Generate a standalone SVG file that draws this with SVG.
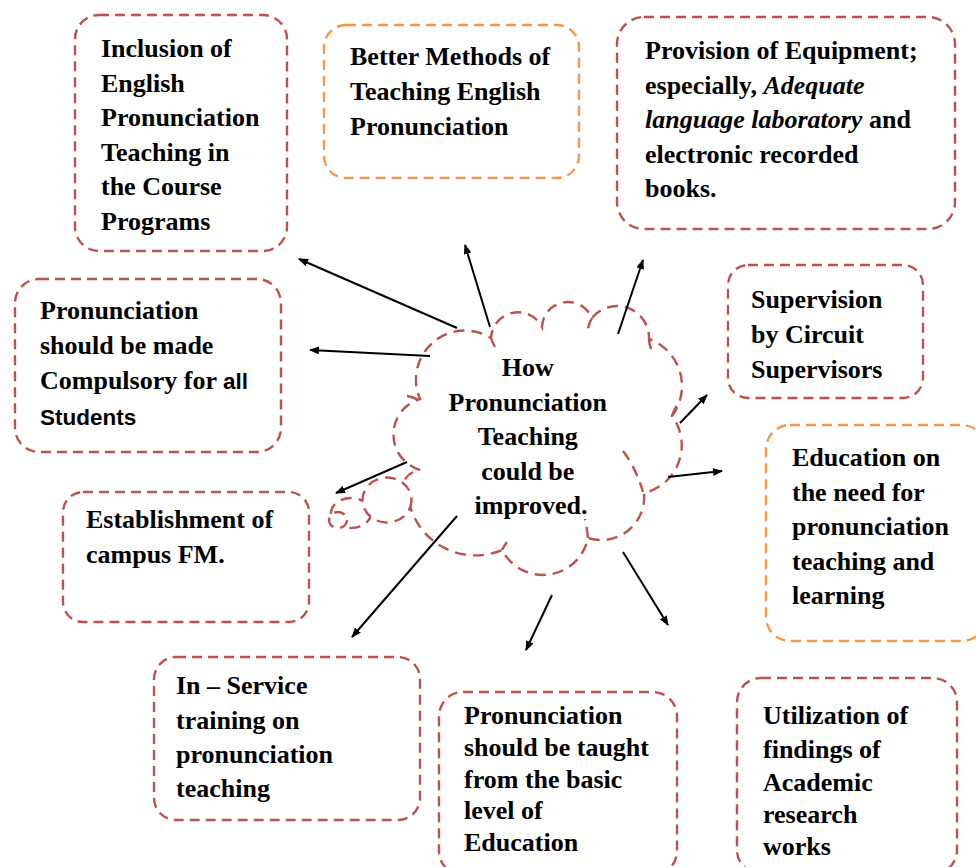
<svg xmlns="http://www.w3.org/2000/svg" width="976" height="867" viewBox="0 0 976 867">
  <style>
    .box { fill: #ffffff; stroke-width: 2.4; stroke-dasharray: 10 6; }
    .red { stroke: #C0504D; }
    .orange { stroke: #F79646; }
    .cloud { fill: #ffffff; stroke: #C0504D; stroke-width: 2.4; stroke-dasharray: 11 7; }
    .tick { fill: none; stroke: #C0504D; stroke-width: 2.4; stroke-dasharray: 11 7; }
    .label { font-family: "Liberation Serif", "Times New Roman", serif; font-weight: bold; font-size: 26px; fill: #000000; }
    .hub { text-anchor: middle; }
    .em { font-style: italic; }
    .sans { font-family: "Liberation Sans", Arial, sans-serif; font-size: 22.5px; }
    .link { fill: none; stroke: #000000; stroke-width: 2; marker-end: url(#head); }
  </style>
  <defs>
    <marker id="head" viewBox="0 0 10 8" refX="9" refY="4" markerWidth="10" markerHeight="8" markerUnits="userSpaceOnUse" orient="auto">
      <path d="M0,0 L10,4 L0,8 Z" fill="#000000"/>
    </marker>
  </defs>

  <rect width="976" height="867" fill="#ffffff"/>

  <!-- central thought cloud -->
  <g id="hub">
    <path class="cloud" d="M420,470 A37,37 0 0 1 420,399 A49,49 0 0 1 491,338 A27,27 0 0 1 542,327 A26,26 0 0 1 592,318 A32,32 0 0 1 649,339 A50,50 0 0 1 672,416 A49,49 0 0 1 644,493 A43,43 0 0 1 588,538 A46,46 0 0 1 502,550 A68,68 0 0 1 410,506 A20,20 0 0 1 420,470 Z"/>
    <path class="tick" d="M407,396 Q414,397 420,401 M491,338 Q492,342 495,347 M592,318 Q589,323 588,329 M649,339 Q649,343 651,349 M672,416 Q674,410 677,405 M623,451 Q636,468 643,492 M588,538 Q587,528 585,519 M502,550 Q504,546 507,542"/>
    <ellipse class="cloud" cx="351" cy="513" rx="20" ry="15"/>
    <ellipse class="cloud" cx="387" cy="500" rx="24.5" ry="22.5"/>
    <ellipse class="cloud" cx="338" cy="520" rx="9" ry="8"/>
    <text class="label hub">
      <tspan x="531" y="376">How</tspan>
      <tspan x="531" y="410.5">Pronunciation</tspan>
      <tspan x="531" y="445">Teaching</tspan>
      <tspan x="531" y="479.5">could be</tspan>
      <tspan x="531" y="514">improved.</tspan>
    </text>
  </g>

  <!-- connectors from the cloud out to each suggestion -->
  <g id="connectors">
    <line class="link" x1="457" y1="328" x2="299" y2="259"/>
    <line class="link" x1="490" y1="327" x2="465" y2="245"/>
    <line class="link" x1="430" y1="356" x2="310" y2="350"/>
    <line class="link" x1="618" y1="334" x2="643" y2="260"/>
    <line class="link" x1="680" y1="423" x2="707" y2="395"/>
    <line class="link" x1="668" y1="477" x2="722" y2="471"/>
    <line class="link" x1="407" y1="462" x2="336" y2="493"/>
    <line class="link" x1="457" y1="516" x2="352" y2="637"/>
    <line class="link" x1="552" y1="595" x2="526" y2="650"/>
    <line class="link" x1="623" y1="552" x2="668" y2="625"/>
  </g>

  <g id="inclusion">
    <rect class="box red" x="75" y="15" width="212" height="236" rx="24"/>
    <text class="label">
      <tspan x="101" y="57">Inclusion of</tspan>
      <tspan x="101" y="91.5">English</tspan>
      <tspan x="101" y="126">Pronunciation</tspan>
      <tspan x="101" y="160.5">Teaching in</tspan>
      <tspan x="101" y="195">the Course</tspan>
      <tspan x="101" y="229.5">Programs</tspan>
    </text>
  </g>

  <g id="methods">
    <rect class="box orange" x="324" y="25" width="255" height="153" rx="22"/>
    <text class="label">
      <tspan x="350" y="65">Better Methods of</tspan>
      <tspan x="350" y="100">Teaching English</tspan>
      <tspan x="350" y="135">Pronunciation</tspan>
    </text>
  </g>

  <g id="equipment">
    <rect class="box red" x="617" y="17" width="338" height="212" rx="27"/>
    <text class="label">
      <tspan x="645" y="59">Provision of Equipment;</tspan>
      <tspan x="645" y="93.5">especially, <tspan class="em">Adequate</tspan></tspan>
      <tspan x="645" y="128"><tspan class="em">language laboratory</tspan> and</tspan>
      <tspan x="645" y="162.5">electronic recorded</tspan>
      <tspan x="645" y="197">books.</tspan>
    </text>
  </g>

  <g id="compulsory">
    <rect class="box red" x="15" y="279" width="266" height="173" rx="24"/>
    <text class="label">
      <tspan x="40" y="319">Pronunciation</tspan>
      <tspan x="40" y="353.5">should be made</tspan>
      <tspan x="40" y="388.5">Compulsory for <tspan class="sans">all</tspan></tspan>
      <tspan x="40" y="425" class="sans">Students</tspan>
    </text>
  </g>

  <g id="campus-fm">
    <rect class="box red" x="63" y="492" width="246" height="130" rx="20"/>
    <text class="label">
      <tspan x="86" y="528">Establishment of</tspan>
      <tspan x="86" y="563">campus FM.</tspan>
    </text>
  </g>

  <g id="supervision">
    <rect class="box red" x="728" y="265" width="195" height="133" rx="20"/>
    <text class="label">
      <tspan x="751" y="308">Supervision</tspan>
      <tspan x="751" y="342.5">by Circuit</tspan>
      <tspan x="751" y="377.5">Supervisors</tspan>
    </text>
  </g>

  <g id="education">
    <rect class="box orange" x="766" y="425" width="220" height="216" rx="24"/>
    <text class="label">
      <tspan x="792" y="466">Education on</tspan>
      <tspan x="792" y="500.5">the need for</tspan>
      <tspan x="792" y="535">pronunciation</tspan>
      <tspan x="792" y="569.5">teaching and</tspan>
      <tspan x="792" y="603.5">learning</tspan>
    </text>
  </g>

  <g id="research">
    <rect class="box red" x="737" y="678" width="220" height="196" rx="24"/>
    <text class="label">
      <tspan x="763" y="724">Utilization of</tspan>
      <tspan x="763" y="757.5">findings of</tspan>
      <tspan x="763" y="791">Academic</tspan>
      <tspan x="763" y="823">research</tspan>
      <tspan x="763" y="855">works</tspan>
    </text>
  </g>

  <g id="in-service">
    <rect class="box red" x="154" y="657" width="266" height="163" rx="22"/>
    <text class="label">
      <tspan x="176" y="694">In – Service</tspan>
      <tspan x="176" y="728.5">training on</tspan>
      <tspan x="176" y="763">pronunciation</tspan>
      <tspan x="176" y="797">teaching</tspan>
    </text>
  </g>

  <g id="basic-level">
    <rect class="box red" x="439" y="692" width="238" height="183" rx="24"/>
    <text class="label">
      <tspan x="464" y="724">Pronunciation</tspan>
      <tspan x="464" y="756">should be taught</tspan>
      <tspan x="464" y="787.5">from the basic</tspan>
      <tspan x="464" y="819">level of</tspan>
      <tspan x="464" y="850.5">Education</tspan>
    </text>
  </g>
</svg>
